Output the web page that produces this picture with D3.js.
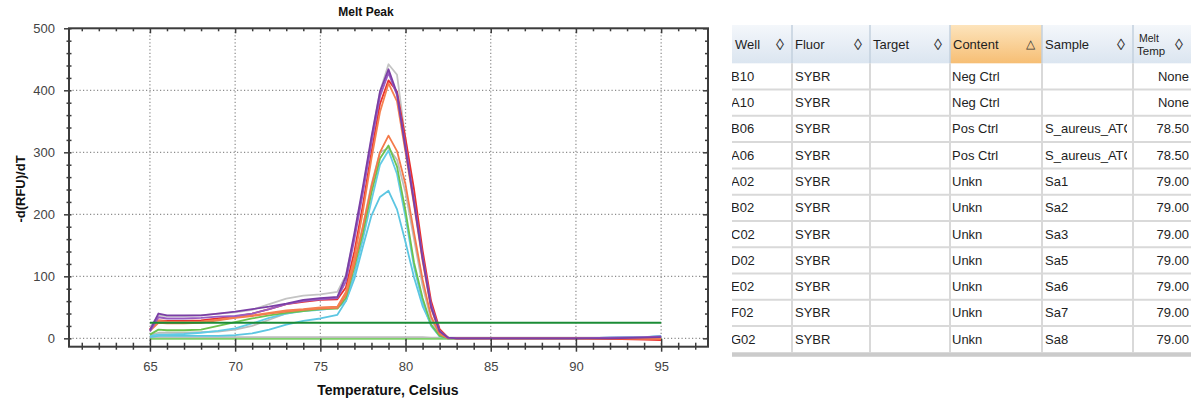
<!DOCTYPE html>
<html>
<head>
<meta charset="utf-8">
<script src="https://cdn.jsdelivr.net/npm/d3@7"></script>
<style>
  body { margin: 0; background: #fff; }
  svg { display: block; font-family: "Liberation Sans", Arial, sans-serif; }
</style>
</head>
<body>
<svg id="chart" width="1191" height="399"></svg>
<script>
// melt curve samples (temperature, Celsius)
const temps = [65, 65.5, 66, 67, 68, 69, 70, 71, 72, 73, 74, 75, 76, 76.5, 77, 77.5, 78, 78.5, 79, 79.5, 80, 80.5, 81, 81.5, 82, 82.5, 83, 85, 88, 90, 92, 94, 95];

// -d(RFU)/dT per well
const grayHi   = [18, 37, 36, 36, 37, 40, 42, 46, 55, 64, 69, 71, 75, 102, 165, 240, 322, 398, 442, 425, 320, 225, 130, 52, 12, 1, 0, 0, 0, 0, 0, 0, 1];
const purple1  = [13, 40, 37, 37, 37, 40, 43, 47, 51, 56, 62, 65, 67, 100, 170, 245, 325, 398, 434, 395, 305, 218, 128, 50, 11, 1, 0, 0, 0, 0, 0, 1, 2];
const purple2  = [11, 34, 32, 32, 33, 35, 36, 40, 47, 55, 60, 63, 65, 92, 160, 235, 315, 390, 428, 392, 310, 222, 132, 54, 12, 1, 0, 0, 0, 0, 1, 2, 3];
const red      = [15, 29, 28, 28, 29, 32, 35, 40, 47, 55, 59, 62, 63, 82, 140, 215, 300, 378, 416, 398, 322, 240, 142, 60, 15, 1, 0, 0, 0, 0, -1, -2, -3];
const orangeHi = [14, 28, 27, 26, 27, 30, 34, 37, 41, 45, 47, 50, 51, 75, 130, 205, 290, 365, 411, 382, 300, 215, 125, 48, 10, 1, 0, 0, 0, 0, 0, -1, -1];
const orangeLo = [12, 25, 24, 24, 25, 29, 33, 36, 40, 43, 46, 48, 49, 70, 120, 180, 245, 300, 327, 302, 248, 170, 95, 35, 7, 0, 0, 0, 0, 0, 0, 0, -2];
const green    = [6, 14, 13, 13, 14, 20, 26, 32, 37, 41, 44, 47, 48, 65, 115, 170, 235, 290, 311, 277, 205, 122, 65, 22, 4, 0, 0, 0, 0, 0, 0, 0, 0];
const grayLo   = [5, 9, 9, 9, 10, 11, 14, 20, 30, 40, 45, 47, 50, 72, 122, 182, 248, 300, 307, 288, 235, 160, 85, 30, 5, 0, 0, 0, 0, 0, 0, 0, 1];
const cyan     = [4, 6, 6, 7, 9, 12, 16, 24, 33, 40, 44, 46, 49, 60, 105, 160, 222, 280, 303, 265, 195, 115, 58, 20, 3, 0, 0, 0, 0, 0, 1, 2, 3];
const cyanLo   = [2, 4, 4, 4, 4, 4, 5, 8, 14, 22, 28, 32, 38, 60, 96, 148, 198, 228, 238, 208, 155, 98, 52, 22, 4, 0, 0, 0, 0, 0, 1, 2, 4];
const negGray  = [2, 2, 2, 2, 2, 2, 2, 2, 2, 2, 2, 2, 2, 2, 2, 2, 2, 2, 2, 2, 2, 2, 2, 1, 1, 1, 1, 1, 1, 1, 1, 1, 1];
const negGreen = [-1, -1, -1, -1, -1, -1, -1, -1, -1, -1, -1, -1, -1, -1, -1, -1, -1, -1, -1, -1, -1, -1, -1, -1, -1, -1, -1, 0, 0, 0, 0, 0, 0];
const threshold = 25;

const xMajor = [65, 70, 75, 80, 85, 90, 95];
const yMajor = [0, 100, 200, 300, 400, 500];

// well table
const wells    = ["B10", "A10", "B06", "A06", "A02", "B02", "C02", "D02", "E02", "F02", "G02"];
const fluors   = ["SYBR", "SYBR", "SYBR", "SYBR", "SYBR", "SYBR", "SYBR", "SYBR", "SYBR", "SYBR", "SYBR"];
const targets  = ["", "", "", "", "", "", "", "", "", "", ""];
const contents = ["Neg Ctrl", "Neg Ctrl", "Pos Ctrl", "Pos Ctrl", "Unkn", "Unkn", "Unkn", "Unkn", "Unkn", "Unkn", "Unkn"];
const samples  = ["", "", "S_aureus_ATCC", "S_aureus_ATCC", "Sa1", "Sa2", "Sa3", "Sa5", "Sa6", "Sa7", "Sa8"];
const meltTemps = ["None", "None", "78.50", "78.50", "79.00", "79.00", "79.00", "79.00", "79.00", "79.00", "79.00"];

const svg = d3.select("#chart");
const FONT = "Liberation Sans, Arial, sans-serif";

const x = d3.scaleLinear().domain([60.25, 97.75]).range([69, 708]);
const y = d3.scaleLinear().domain([-13.5, 500]).range([346.7, 28.3]);
const [x0, x1] = x.range();
const [yb, yt] = y.range();

// grid
const grid = svg.append("g")
    .attr("stroke", "#8c8c8c")
    .attr("stroke-width", 1.2)
    .attr("stroke-dasharray", "1.2,2.3");
grid.selectAll(".vg").data(xMajor).enter().append("line")
    .attr("x1", d => x(d)).attr("x2", d => x(d))
    .attr("y1", yt).attr("y2", yb);
grid.selectAll(".hg").data(yMajor.filter(d => d < 500)).enter().append("line")
    .attr("x1", x0).attr("x2", x1)
    .attr("y1", d => y(d)).attr("y2", d => y(d));

// curves (red sits under the purples at the peak)
const curves = [
    {v: negGray, c: "#bdbdbd"},
    {v: grayLo, c: "#bcbcbc"},
    {v: grayHi, c: "#c4c4c4"},
    {v: negGreen, c: "#7fd06a"},
    {v: cyanLo, c: "#5cc6e2"},
    {v: cyan, c: "#62cbe6"},
    {v: green, c: "#6cc24f"},
    {v: orangeLo, c: "#f47a4a"},
    {v: red, c: "#e8302e"},
    {v: orangeHi, c: "#f5804f"},
    {v: purple2, c: "#9a5cc2"},
    {v: purple1, c: "#7b3fa6"}
];
const line = d3.line().x((d, i) => x(temps[i])).y(d => y(d));
svg.append("g").selectAll("path").data(curves).enter().append("path")
    .attr("d", d => line(d.v))
    .attr("fill", "none")
    .attr("stroke", d => d.c)
    .attr("stroke-width", 1.8)
    .attr("stroke-linejoin", "round");

svg.append("line")
    .attr("x1", x(temps[0])).attr("x2", x(temps[temps.length - 1]))
    .attr("y1", y(threshold)).attr("y2", y(threshold))
    .attr("stroke", "#1b8c36").attr("stroke-width", 2);

// axes
const axisColor = "#3c3c3c";
const xAxis = svg.append("g").attr("transform", `translate(0,${yb})`)
    .call(d3.axisBottom(x).tickValues(d3.range(61, 98)).tickSize(0).tickPadding(15)
        .tickFormat(d => xMajor.includes(d) ? d : ""));
xAxis.select(".domain").remove();
xAxis.selectAll(".tick line")
    .attr("y1", d => xMajor.includes(d) ? -8 : -4)
    .attr("y2", d => xMajor.includes(d) ? 5 : 3)
    .attr("stroke", axisColor).attr("stroke-width", 1.5);

const yAxis = svg.append("g").attr("transform", `translate(${x0},0)`)
    .call(d3.axisLeft(y).tickValues(d3.range(0, 501, 20)).tickSize(0).tickPadding(14)
        .tickFormat(d => d % 100 === 0 ? d : ""));
yAxis.select(".domain").remove();
yAxis.selectAll(".tick line")
    .attr("x1", d => d % 100 === 0 ? -5 : -2.5)
    .attr("x2", 2.5)
    .attr("stroke", axisColor).attr("stroke-width", 1.5);

const topAxis = svg.append("g").attr("transform", `translate(0,${yt})`)
    .call(d3.axisTop(x).tickValues(d3.range(61, 98)).tickSize(0).tickFormat(""));
topAxis.select(".domain").remove();
topAxis.selectAll(".tick line")
    .attr("y1", 0).attr("y2", d => xMajor.includes(d) ? 5 : 3)
    .attr("stroke", axisColor).attr("stroke-width", 1.5);

const rightAxis = svg.append("g").attr("transform", `translate(${x1},0)`)
    .call(d3.axisRight(y).tickValues(d3.range(0, 501, 20)).tickSize(0).tickFormat(""));
rightAxis.select(".domain").remove();
rightAxis.selectAll(".tick line")
    .attr("x1", 0).attr("x2", d => d % 100 === 0 ? -5 : -3)
    .attr("stroke", axisColor).attr("stroke-width", 1.5);

[xAxis, yAxis].forEach(g => g.attr("font-family", FONT).attr("font-size", 13)
    .selectAll("text").attr("fill", "#444"));

svg.append("rect")
    .attr("x", x0).attr("y", yt).attr("width", x1 - x0).attr("height", yb - yt)
    .attr("fill", "none").attr("stroke", axisColor).attr("stroke-width", 2);

// titles
svg.append("text").attr("x", 366).attr("y", 16).attr("text-anchor", "middle")
    .attr("font-size", 12).attr("font-weight", "bold").attr("fill", "#111").text("Melt Peak");
svg.append("text").attr("x", 388).attr("y", 395).attr("text-anchor", "middle")
    .attr("font-size", 14).attr("font-weight", "bold").attr("fill", "#111").text("Temperature, Celsius");
svg.append("text").attr("transform", "translate(25,189) rotate(-90)").attr("text-anchor", "middle")
    .attr("font-size", 13).attr("font-weight", "bold").attr("fill", "#111").text("-d(RFU)/dT");

// ---- table ----
const defs = svg.append("defs");
const hdrGrad = defs.append("linearGradient").attr("id", "hdr").attr("x1", 0).attr("x2", 0).attr("y1", 0).attr("y2", 1);
hdrGrad.append("stop").attr("offset", "0%").attr("stop-color", "#f4f7fb");
hdrGrad.append("stop").attr("offset", "100%").attr("stop-color", "#dbe5f0");
const sortGrad = defs.append("linearGradient").attr("id", "hdrSort").attr("x1", 0).attr("x2", 0).attr("y1", 0).attr("y2", 1);
sortGrad.append("stop").attr("offset", "0%").attr("stop-color", "#fde4bc");
sortGrad.append("stop").attr("offset", "100%").attr("stop-color", "#f6be74");
defs.append("clipPath").attr("id", "tableClip").append("rect")
    .attr("x", 732).attr("y", 0).attr("width", 459).attr("height", 399);

const colEdges = [732, 792, 870, 950, 1042, 1133, 1191];
const headers = ["Well", "Fluor", "Target", "Content", "Sample", ""];
const rowTop = 63.3, rowH = 26.27, hdrTop = 25;
const tableBottom = rowTop + wells.length * rowH;

const table = svg.append("g").attr("clip-path", "url(#tableClip)")
    .attr("font-family", FONT).attr("font-size", 13);

headers.forEach((h, i) => {
    table.append("rect")
        .attr("x", colEdges[i]).attr("y", hdrTop)
        .attr("width", colEdges[i + 1] - colEdges[i]).attr("height", rowTop - hdrTop)
        .attr("fill", i === 3 ? "url(#hdrSort)" : "url(#hdr)");
    if (h) {
        table.append("text").attr("x", colEdges[i] + 3).attr("y", 48.5).attr("fill", "#1e1e1e").text(h);
    }
    table.append("text")
        .attr("x", colEdges[i + 1] - 12).attr("y", i === 3 ? 47.5 : 49.5)
        .attr("text-anchor", "middle")
        .attr("font-size", i === 3 ? 12 : 16)
        .attr("fill", "#333")
        .text(i === 3 ? "\u25B3" : "\u25CA");
});
table.append("text").attr("x", 1139).attr("y", 42).attr("font-size", 10.5).attr("fill", "#1e1e1e").text("Melt");
table.append("text").attr("x", 1137).attr("y", 55).attr("font-size", 11.5).attr("fill", "#1e1e1e").text("Temp");

// header separators
table.selectAll(".hsep").data(colEdges.slice(1, -1)).enter().append("line")
    .attr("x1", d => d).attr("x2", d => d).attr("y1", hdrTop).attr("y2", rowTop)
    .attr("stroke", "#c3d0de").attr("stroke-width", 1.5);

// body grid
table.selectAll(".rsep").data(d3.range(1, wells.length)).enter().append("line")
    .attr("x1", 732).attr("x2", 1191)
    .attr("y1", d => rowTop + d * rowH).attr("y2", d => rowTop + d * rowH)
    .attr("stroke", "#d9d9d9").attr("stroke-width", 2);
table.selectAll(".csep").data(colEdges.slice(1, -1)).enter().append("line")
    .attr("x1", d => d).attr("x2", d => d).attr("y1", rowTop).attr("y2", tableBottom)
    .attr("stroke", "#d9d9d9").attr("stroke-width", 2);
table.append("rect").attr("x", 732).attr("y", tableBottom).attr("width", 459).attr("height", 4.5)
    .attr("fill", "#cbcbcb");

const cols = [wells, fluors, targets, contents, samples];
const textX = [731, 795, 873, 952, 1045];
cols.forEach((arr, ci) => {
    const g = table.append("g");
    if (ci === 4) {
        defs.append("clipPath").attr("id", "sampleClip").append("rect")
            .attr("x", colEdges[4]).attr("y", rowTop).attr("width", colEdges[5] - colEdges[4] - 6).attr("height", 300);
        g.attr("clip-path", "url(#sampleClip)");
    }
    g.selectAll("text").data(arr).enter().append("text")
        .attr("x", textX[ci])
        .attr("y", (d, i) => rowTop + i * rowH + rowH / 2 + 4.5)
        .attr("fill", "#1e1e1e")
        .text(d => d);
});
table.append("g").selectAll("text").data(meltTemps).enter().append("text")
    .attr("x", 1189).attr("text-anchor", "end")
    .attr("y", (d, i) => rowTop + i * rowH + rowH / 2 + 4.5)
    .attr("fill", "#1e1e1e")
    .text(d => d);
</script>
</body>
</html>
